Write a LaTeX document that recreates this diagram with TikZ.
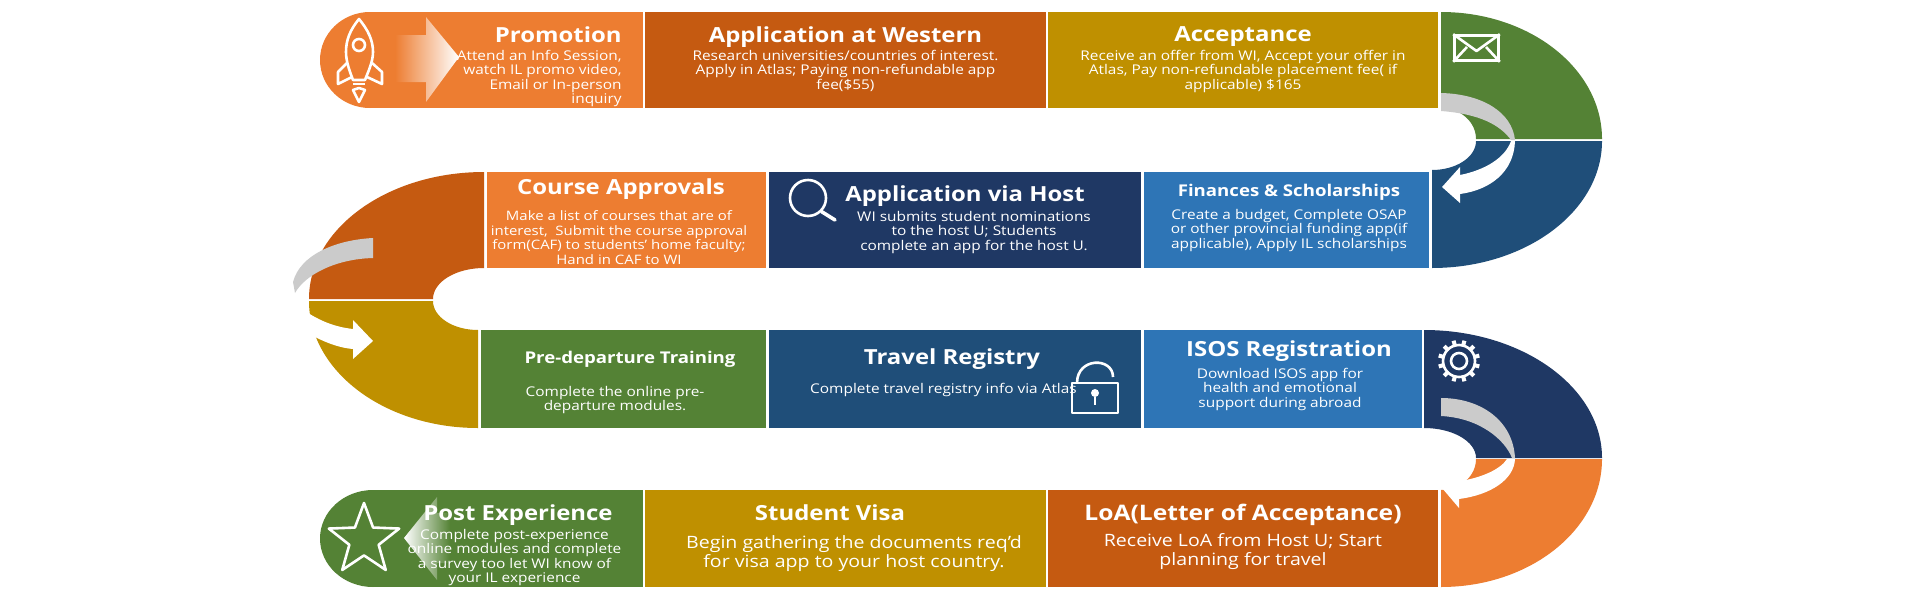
\documentclass[tikz,border=0pt]{standalone}
\usepackage{fontspec}
\setmainfont[FakeStretch=1.15]{Open Sans}
\usetikzlibrary{positioning,shapes.geometric}

\definecolor{corange}{HTML}{ED7D31}
\definecolor{cbrown}{HTML}{C55A11}
\definecolor{cgold}{HTML}{BF9000}
\definecolor{cgreen}{HTML}{548235}
\definecolor{cnavy}{HTML}{1F3864}
\definecolor{cdeep}{HTML}{1F4E79}
\definecolor{cblue}{HTML}{2E75B6}
\definecolor{cribbon}{HTML}{CBCBCB}

\begin{document}
\begin{tikzpicture}[
        x=.5pt, y=-.5pt,
        stagebox/.style={inner sep=0pt, outer sep=0pt, minimum height=48pt},
        bigtitle/.style={inner sep=0pt, text=white, text height=8pt, text depth=2.5pt, font=\fontsize{10.4}{12}\bfseries\selectfont},
        midtitle/.style={inner sep=0pt, text=white, text height=6.5pt, text depth=2pt, font=\fontsize{8.1}{10}\bfseries\selectfont},
        bodytext/.style={inner sep=0pt, text=white, align=center, font=\fontsize{6.7}{7.25}\selectfont},
        bigbody/.style={inner sep=0pt, text=white, align=center, font=\fontsize{8.5}{9.5}\selectfont},
        iconline/.style={draw=white, line width=1.3pt, line join=round},
        ribbon/.style={fill=cribbon},
        whitearrow/.style={fill=white}
    ]
    \useasboundingbox (0,0) rectangle (1920,600);

    % Row one
    \node (promotion)[stagebox, fill=corange, minimum width=136.5pt] at (506.5,60) {};
    \node (application)[stagebox, fill=cbrown, minimum width=200.5pt, right=1pt of promotion] {};
    \node (acceptance)[stagebox, fill=cgold, minimum width=195pt, right=1pt of application] {};

    % Row two
    \node (course)[stagebox, fill=corange, minimum width=139.5pt] at (626.5,220) {};
    \node (host)[stagebox, fill=cnavy, minimum width=186pt, right=1.5pt of course] {};
    \node (finances)[stagebox, fill=cblue, minimum width=142.5pt, right=1.5pt of host] {};

    % Row three
    \node (predeparture)[stagebox, fill=cgreen, minimum width=142.5pt, minimum height=49pt] at (623.5,379) {};
    \node (travel)[stagebox, fill=cdeep, minimum width=186pt, minimum height=49pt, right=1.5pt of predeparture] {};
    \node (isos)[stagebox, fill=cblue, minimum width=139pt, minimum height=49pt, right=1.5pt of travel] {};

    % Row four
    \node (post)[stagebox, fill=cgreen, minimum width=135pt, minimum height=48.5pt] at (508,538.5) {};
    \node (visa)[stagebox, fill=cgold, minimum width=200.5pt, minimum height=48.5pt, right=1pt of post] {};
    \node (loa)[stagebox, fill=cbrown, minimum width=195pt, minimum height=48.5pt, right=1pt of visa] {};

    % Rounded ends
    \fill[corange] (promotion.north west) arc[start angle=-90, end angle=-270, x radius=50, y radius=48] -- cycle;
    \fill[cgreen] (post.north west) arc[start angle=-90, end angle=-270, x radius=53, y radius=48.5] -- cycle;

    % Bends
    \fill[cgreen] (1441,12) arc[start angle=-90, end angle=0, x radius=161, y radius=127]
        -- (1476,139) arc[start angle=0, end angle=-90, x radius=35, y radius=31] -- cycle;
    \fill[cdeep] (1602,141) arc[start angle=0, end angle=90, x radius=170, y radius=127]
        -- (1432,170) arc[start angle=90, end angle=0, x radius=44, y radius=29] -- cycle;
    \fill[cbrown] (484,172) arc[start angle=-90, end angle=-180, x radius=175, y radius=127]
        -- (433,299) arc[start angle=180, end angle=270, x radius=51, y radius=31] -- cycle;
    \fill[cgold] (309,301) arc[start angle=180, end angle=90, x radius=169, y radius=127]
        -- (478,330) arc[start angle=90, end angle=180, x radius=45, y radius=29] -- cycle;
    \fill[cnavy] (1424,330) arc[start angle=-90, end angle=0, x radius=178, y radius=128]
        -- (1476,458) arc[start angle=0, end angle=-90, x radius=52, y radius=30] -- cycle;
    \fill[corange] (1602,459) arc[start angle=0, end angle=90, x radius=161, y radius=128]
        -- (1441,490) arc[start angle=90, end angle=0, x radius=35, y radius=31] -- cycle;

    % Ribbons
    \fill[ribbon] (1441,93) .. controls (1482,94) and (1512,112) .. (1515,140)
        -- (1511,140) .. controls (1500,125) and (1480,114) .. (1441,111) -- cycle;
    \fill[whitearrow] (1515,141) .. controls (1514,172) and (1490,190) .. (1460,194)
        -- (1460,203) -- (1442,187) -- (1460,167) -- (1460,175)
        .. controls (1485,170) and (1505,158) .. (1511,141) -- cycle;
    \fill[ribbon] (373,238) .. controls (335,240) and (300,255) .. (293,282)
        -- (295,293) .. controls (305,275) and (335,259) .. (373,258) -- cycle;
    \fill[whitearrow] (305,311) .. controls (320,321) and (335,327) .. (353,329)
        -- (353,320) -- (373,341) -- (353,359) -- (353,349)
        .. controls (340,348) and (327,343) .. (315,337) -- cycle;
    \fill[ribbon] (1441,398) .. controls (1480,398) and (1513,420) .. (1515,458)
        -- (1512,458) .. controls (1505,440) and (1480,418) .. (1441,416) -- cycle;
    \fill[whitearrow] (1515,459) .. controls (1514,480) and (1490,495) .. (1459,499)
        -- (1459,508) -- (1442,488) -- (1460,481)
        .. controls (1480,478) and (1500,470) .. (1507,459) -- cycle;

    % Gradient arrows
    \shade[left color=corange, right color=white] (395,35) -- (426,35) -- (426,17) -- (459,57)
        -- (426,102) -- (426,82) -- (395,82) -- cycle;
    \shade[left color=white, right color=cgreen] (450,513) -- (437,513) -- (437,497) -- (404,538)
        -- (437,580) -- (437,563) -- (450,563) -- cycle;

    % Icons
    \draw[iconline] (359,19) .. controls (350,30) and (346,40) .. (346,52)
        .. controls (346,62) and (350,72) .. (353,80) -- (365,80)
        .. controls (368,72) and (373,62) .. (373,52) .. controls (373,40) and (368,30) .. (359,19) -- cycle;
    \draw[iconline] (347,63) -- (338,72) -- (338,84) -- (352,77);
    \draw[iconline] (372,63) -- (382,72) -- (382,84) -- (367,77);
    \draw[iconline] (353,84) -- (365,84);
    \draw[iconline] (353,90) -- (359,102) -- (365,90) -- (359,88) -- cycle;
    \node (window)[circle, iconline, inner sep=0pt, minimum size=6pt] at (359,45) {};

    \node (envelope)[iconline, inner sep=0pt, minimum width=22pt, minimum height=12.5pt] at (1476.5,48) {};
    \draw[iconline] (envelope.north west) -- (1476.5,51) -- (envelope.north east);
    \draw[iconline] (envelope.south west) -- (1467,47);
    \draw[iconline] (envelope.south east) -- (1486,47);

    \node (lens)[circle, iconline, inner sep=0pt, minimum size=18pt] at (808,198) {};
    \draw[draw=white, line width=1.8pt, line cap=round] (lens.-45) -- (835,220);

    \foreach \a in {15,45,...,345} {
        \draw[draw=white, line width=2pt] (1459,361) ++(\a:15) -- ++(\a:6);
    }
    \node (gear)[circle, iconline, inner sep=0pt, minimum size=16pt] at (1459,361) {};
    \node (gearhub)[circle, iconline, inner sep=0pt, minimum size=8pt] at (1459,361) {};

    \node (star)[star, star points=5, star point ratio=2.4, iconline, inner sep=0pt, minimum size=37pt] at (364,540) {};

    % Titles and texts
    \node (promotionT)[bigtitle, below left=7.1pt and 10.5pt of promotion.north east] {Promotion};
    \node (promotionB)[bodytext, align=right, below left=.9pt and 0pt of promotionT.south east] {Attend an Info Session,\\ watch IL promo video,\\ Email or In-person\\ inquiry};

    \node (applicationT)[bigtitle, below=7.1pt of application.north] {Application at Western};
    \node (applicationB)[bodytext, below=.9pt of applicationT] {Research universities/countries of interest.\\ Apply in Atlas; Paying non-refundable app\\ fee(\$55)};

    \node (acceptanceT)[bigtitle, below=6.6pt of acceptance.north] {Acceptance};
    \node (acceptanceB)[bodytext, below=1.4pt of acceptanceT] {Receive an offer from WI, Accept your offer in\\ Atlas, Pay non-refundable placement fee( if\\ applicable) \$165};

    \node (courseT)[bigtitle, below=3.1pt of course.north, xshift=-2.75pt] {Course Approvals};
    \node (courseB)[bodytext, font=\fontsize{6.5}{7.25}\selectfont, below=5.2pt of courseT, xshift=-1pt] {Make a list of courses that are of\\ interest,\ \ Submit the course approval\\ form(CAF) to students’ home faculty;\\ Hand in CAF to WI};

    \node (hostT)[bigtitle, below=6.6pt of host.north, xshift=5pt] {Application via Host};
    \node (hostB)[bodytext, below=1.9pt of hostT, xshift=4.5pt] {WI submits student nominations\\ to the host U; Students\\ complete an app for the host U.};

    \node (financesT)[midtitle, below=5.5pt of finances.north, xshift=1.25pt] {Finances \& Scholarships};
    \node (financesB)[bodytext, below=4pt of financesT] {Create a budget, Complete OSAP\\ or other provincial funding app(if\\ applicable), Apply IL scholarships};

    \node (predepartureT)[midtitle, below=10pt of predeparture.north, xshift=3.25pt] {Pre-departure Training};
    \node (predepartureB)[bodytext, below=9pt of predepartureT, xshift=-7.5pt] {Complete the online pre-\\ departure modules.};

    \node (travelT)[bigtitle, below=9.1pt of travel.north, xshift=-1.5pt] {Travel Registry};
    \node (travelB)[bodytext, below=6.4pt of travelT, xshift=-4.25pt] {Complete travel registry info via Atlas};

    \node (isosT)[bigtitle, below=5.1pt of isos.north, xshift=3pt] {ISOS Registration};
    \node (isosB)[bodytext, below=2.9pt of isosT, xshift=-4.5pt] {Download ISOS app for\\ health and emotional\\ support during abroad};

    \node (postT)[bigtitle, below=7.1pt of post.north, xshift=5pt] {Post Experience};
    \node (postB)[bodytext, below=1.4pt of postT, xshift=-1.75pt] {Complete post-experience\\ online modules and complete\\ a survey too let WI know of\\ your IL experience};

    \node (visaT)[bigtitle, below=7.1pt of visa.north, xshift=-7.75pt] {Student Visa};
    \node (visaB)[bigbody, below=4.6pt of visaT, xshift=12pt] {Begin gathering the documents req’d\\ for visa app to your host country.};

    \node (loaT)[bigtitle, font=\fontsize{10.7}{12}\bfseries\selectfont, below=7.1pt of loa.north] {LoA(Letter of Acceptance)};
    \node (loaB)[bigbody, below=3.6pt of loaT] {Receive LoA from Host U; Start\\ planning for travel};

    % Lock goes over the text
    \node (lockbody)[iconline, inner sep=0pt, minimum width=23pt, minimum height=15pt] at (1095,398) {};
    \draw[iconline] (1077,383) .. controls (1077,357) and (1113,357) .. (1113,377);
    \node (keyhole)[circle, fill=white, inner sep=0pt, minimum size=4pt] at (1095,393) {};
    \draw[draw=white, line width=1.2pt] (keyhole) -- (1095,405);

\end{tikzpicture}
\end{document}
